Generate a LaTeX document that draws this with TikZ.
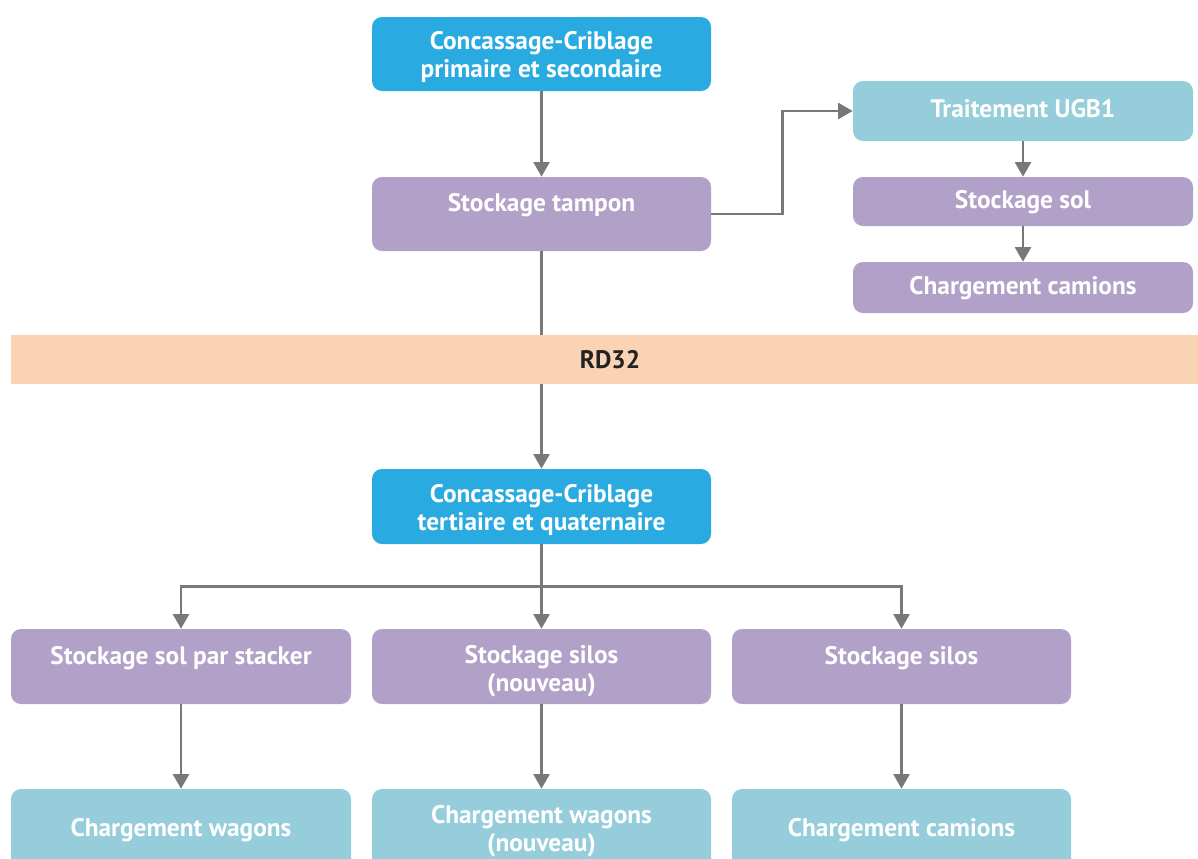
\documentclass[tikz,border=0pt]{standalone}
\usepackage{fontspec}
\setmainfont{PT Sans}
\usetikzlibrary{arrows.meta}
\definecolor{cblue}{HTML}{29ABE2}
\definecolor{cpurple}{HTML}{B1A0C7}
\definecolor{clight}{HTML}{95CDDB}
\definecolor{cpeach}{HTML}{F9D3B4}
\definecolor{cgray}{HTML}{787878}
\definecolor{cdark}{HTML}{222222}
\begin{document}
\begin{tikzpicture}[x=0.75pt,y=-0.75pt,
  box/.style={rounded corners=7.5pt, minimum width=254.25pt, inner sep=0pt, draw=none},
  lbl/.style={text=white, font=\bfseries\fontsize{19}{21}\selectfont, align=center, inner sep=0pt},
  conn/.style={draw=cgray, line width=1.9pt, -{Triangle[width=12pt,length=11pt]}},
  plain/.style={draw=cgray, line width=1.9pt}]
\useasboundingbox (0,0) rectangle (1198,858);

% top chain
\node[box, fill=cblue, minimum height=55.5pt] (c1) at (541.5,54) {};
\node[lbl] (c1t) at (541.5,57) {Concassage-Criblage\\primaire et secondaire};
\node[box, fill=cpurple, minimum height=55.5pt] (st) at (541.5,214) {};
\node[lbl] (stt) at (541.5,205) {Stockage tampon};

% right chain
\node[box, fill=clight, minimum width=255pt, minimum height=45pt] (ugb) at (1023,111) {};
\node[lbl] (ugbt) at (1023,109) {Traitement UGB1};
\node[box, fill=cpurple, minimum width=255pt, minimum height=36.75pt] (ss) at (1023,201.5) {};
\node[lbl] (sst) at (1023,202) {Stockage sol};
\node[box, fill=cpurple, minimum width=255pt, minimum height=38.25pt] (cc) at (1023,287.5) {};
\node[lbl] (cct) at (1023,288) {Chargement camions};

% road
\node[fill=cpeach, minimum width=890.25pt, minimum height=36.75pt, inner sep=0pt] (road) at (604.5,359.5) {};
\node[lbl, text=cdark] (roadt) at (610,360) {RD32};

% second crusher
\node[box, fill=cblue, minimum height=56.25pt] (c2) at (541.5,506.5) {};
\node[lbl] (c2t) at (541.5,510) {Concassage-Criblage\\tertiaire et quaternaire};

% storage row
\node[box, fill=cpurple, minimum width=255pt, minimum height=56.25pt] (b1) at (181,666.5) {};
\node[lbl] (b1t) at (181,658) {Stockage sol par stacker};
\node[box, fill=cpurple, minimum height=56.25pt] (b2) at (541.5,666.5) {};
\node[lbl] (b2t) at (541.5,671) {Stockage silos\\(nouveau)};
\node[box, fill=cpurple, minimum height=56.25pt] (b3) at (901.5,666.5) {};
\node[lbl] (b3t) at (901.5,658) {Stockage silos};

% loading row
\node[box, fill=clight, minimum width=255pt, minimum height=60.75pt] (l1) at (181,829.5) {};
\node[lbl] (l1t) at (181,830) {Chargement wagons};
\node[box, fill=clight, minimum height=60.75pt] (l2) at (541.5,829.5) {};
\node[lbl] (l2t) at (541.5,831) {Chargement wagons\\(nouveau)};
\node[box, fill=clight, minimum height=60.75pt] (l3) at (901.5,829.5) {};
\node[lbl] (l3t) at (901.5,830) {Chargement camions};

% connectors
\draw[conn] (c1) -- (st);
\draw[conn] (st.east) -- ++(71,0) |- (ugb.west);
\draw[conn] (ugb) -- (ss);
\draw[conn] (ss) -- (cc);
\draw[plain] (st.south) -- (st.south |- road.north);
\draw[conn] (c2.north |- road.south) -- (c2.north);
\draw[plain] (c2.south) -- ++(0,42) coordinate (split);
\draw[conn] (split) -| (b1.north);
\draw[conn] (split) -| (b3.north);
\draw[conn] (split) -- (b2.north);
\draw[conn] (b1) -- (l1);
\draw[conn] (b2) -- (l2);
\draw[conn] (b3) -- (l3);
\end{tikzpicture}
\end{document}
